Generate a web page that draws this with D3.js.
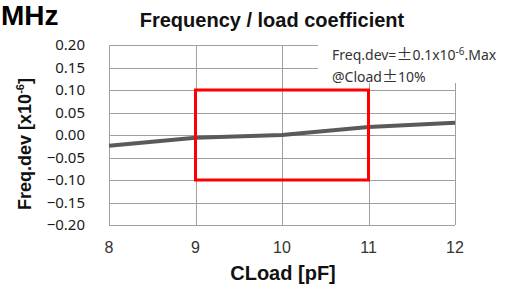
<!DOCTYPE html>
<html>
<head>
<meta charset="utf-8">
<script src="https://cdn.jsdelivr.net/npm/d3@7"></script>
<style>
  body { margin: 0; background: #fff; }
  svg { display: block; }
</style>
</head>
<body>
<svg width="507" height="288"></svg>
<script>
// data
var cload = [8, 9, 10, 11, 12];
var freqDev = [-0.024, -0.006, 0.0, 0.018, 0.027];
var xTicks = [8, 9, 10, 11, 12];
var yTicks = [-0.2, -0.15, -0.1, -0.05, 0, 0.05, 0.1, 0.15, 0.2];
var specBox = {x0: 9, x1: 11, y0: -0.1, y1: 0.1};

var svg = d3.select('svg');
var margin = {top: 45, right: 52, bottom: 63, left: 109};
var width = svg.attr('width') - margin.left - margin.right;
var height = svg.attr('height') - margin.top - margin.bottom;

var x = d3.scaleLinear().domain([8, 12]).range([0, width]);
var y = d3.scaleLinear().domain([-0.2, 0.2]).range([height, 0]);

var g = svg
  .append('g')
  .attr('transform', 'translate(' + margin.left + ',' + margin.top + ')');

// grid
g.selectAll('.hgrid')
  .data(yTicks)
  .enter()
  .append('line')
  .attr('x1', 0)
  .attr('x2', width)
  .attr('y1', d => Math.round(y(d)) + 0.5)
  .attr('y2', d => Math.round(y(d)) + 0.5)
  .attr('stroke', '#a0a0a0')
  .attr('stroke-width', 1);
g.selectAll('.vgrid')
  .data(xTicks)
  .enter()
  .append('line')
  .attr('x1', d => Math.round(x(d)) + 0.5)
  .attr('x2', d => Math.round(x(d)) + 0.5)
  .attr('y1', 0)
  .attr('y2', height)
  .attr('stroke', '#a0a0a0')
  .attr('stroke-width', 1);

// y tick labels
g.selectAll('.ylab')
  .data(yTicks)
  .enter()
  .append('text')
  .attr('x', -24)
  .attr('y', d => y(d))
  .attr('dy', '0.35em')
  .attr('text-anchor', 'end')
  .style('font-family', 'Noto Sans, sans-serif')
  .style('font-size', '15px')
  .attr('fill', '#1a1a1a')
  .text(d => d3.format('.2f')(d));

// x tick labels
g.selectAll('.xlab')
  .data(xTicks)
  .enter()
  .append('text')
  .attr('x', d => x(d))
  .attr('y', height + 22)
  .attr('dy', '0.35em')
  .attr('text-anchor', 'middle')
  .style('font-family', 'Liberation Sans, Arial, sans-serif')
  .style('font-size', '16px')
  .attr('fill', '#333')
  .text(d => d);

// series line
var line = d3
  .line()
  .x((d, i) => x(cload[i]))
  .y(d => y(d));
g.append('path')
  .datum(freqDev)
  .attr('d', line)
  .attr('fill', 'none')
  .attr('stroke', '#5a5a5a')
  .attr('stroke-width', 4);

// spec box
g.append('rect')
  .attr('x', x(specBox.x0))
  .attr('y', y(specBox.y1))
  .attr('width', x(specBox.x1) - x(specBox.x0))
  .attr('height', y(specBox.y0) - y(specBox.y1))
  .attr('fill', 'none')
  .attr('stroke', '#ff0000')
  .attr('stroke-width', 3);

// annotation with white background over grid
svg.append('rect')
  .attr('x', 318)
  .attr('y', 38)
  .attr('width', 189)
  .attr('height', 45)
  .attr('fill', '#fff');
var note = svg.append('g')
  .style('font-family', 'Noto Sans, sans-serif')
  .style('font-size', '14px')
  .attr('fill', '#333');
var cjk = 'Noto Sans CJK JP, sans-serif';
var n1 = note.append('text').attr('x', 332).attr('y', 60);
n1.append('tspan').text('Freq.dev=');
n1.append('tspan').style('font-family', cjk).style('font-size', '16px').text('±');
n1.append('tspan').text('0.1x10');
n1.append('tspan').attr('dy', -5).style('font-size', '10px').text('-6');
n1.append('tspan').attr('dy', 5).text('.Max');
var n2 = note.append('text').attr('x', 332).attr('y', 82);
n2.append('tspan').text('@Cload');
n2.append('tspan').style('font-family', cjk).style('font-size', '16px').text('±');
n2.append('tspan').text('10%');

// titles
svg.append('text')
  .attr('x', 1)
  .attr('y', 25)
  .style('font-family', 'Liberation Sans, Arial, sans-serif')
  .style('font-size', '28px')
  .style('font-weight', 'bold')
  .text('MHz');
svg.append('text')
  .attr('x', 272)
  .attr('y', 27)
  .attr('text-anchor', 'middle')
  .style('font-family', 'Liberation Sans, Arial, sans-serif')
  .style('font-size', '20px')
  .style('font-weight', 'bold')
  .attr('fill', '#111')
  .text('Frequency / load coefficient');
svg.append('text')
  .attr('x', 283)
  .attr('y', 280)
  .attr('text-anchor', 'middle')
  .style('font-family', 'Liberation Sans, Arial, sans-serif')
  .style('font-size', '20px')
  .style('font-weight', 'bold')
  .attr('fill', '#111')
  .text('CLoad [pF]');
var yt = svg.append('text')
  .attr('transform', 'translate(31,144) rotate(-90)')
  .attr('text-anchor', 'middle')
  .style('font-family', 'Liberation Sans, Arial, sans-serif')
  .style('font-size', '18px')
  .style('font-weight', 'bold')
  .attr('fill', '#111');
yt.append('tspan').text('Freq.dev [x10');
yt.append('tspan').attr('dy', -7).style('font-size', '11px').text('-6');
yt.append('tspan').attr('dy', 7).text(']');
</script>
</body>
</html>
